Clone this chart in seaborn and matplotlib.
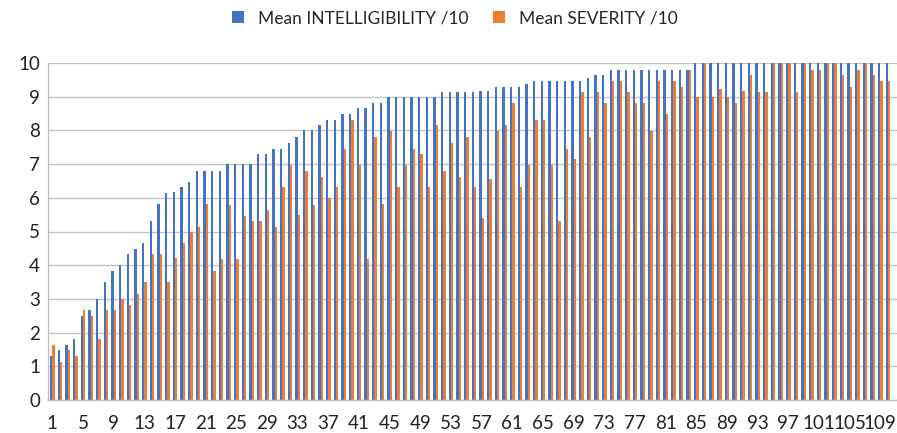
import numpy as np
import pandas as pd
import matplotlib
matplotlib.use("Agg")
import matplotlib.pyplot as plt
import seaborn as sns

# Mean scores per speaker (1..110), sorted by intelligibility
intelligibility = [
    1.30, 1.48, 1.63, 1.80, 2.49, 2.66, 3.00, 3.50, 3.84, 4.00,
    4.33, 4.49, 4.65, 5.31, 5.81, 6.15, 6.18, 6.31, 6.47, 6.80,
    6.80, 6.80, 6.80, 7.00, 7.00, 7.00, 7.00, 7.31, 7.31, 7.46,
    7.46, 7.64, 7.81, 8.00, 8.00, 8.16, 8.32, 8.32, 8.49, 8.49,
    8.66, 8.66, 8.80, 8.81, 9.00, 9.00, 9.00, 9.00, 9.00, 9.00,
    9.00, 9.15, 9.15, 9.15, 9.15, 9.15, 9.18, 9.18, 9.30, 9.30,
    9.30, 9.30, 9.37, 9.47, 9.47, 9.47, 9.47, 9.47, 9.47, 9.47,
    9.55, 9.64, 9.64, 9.80, 9.80, 9.80, 9.80, 9.80, 9.80, 9.80,
    9.80, 9.80, 9.80, 9.80, 10.0, 10.0, 10.0, 10.0, 10.0, 10.0,
    10.0, 10.0, 10.0, 10.0, 10.0, 10.0, 10.0, 10.0, 10.0, 10.0,
    10.0, 10.0, 10.0, 10.0, 10.0, 10.0, 10.0, 10.0, 10.0, 10.0,
]
severity = [
    1.63, 1.14, 1.48, 1.30, 2.66, 2.49, 1.81, 2.66, 2.66, 3.00,
    2.83, 3.16, 3.50, 4.33, 4.33, 3.50, 4.20, 4.65, 4.98, 5.14,
    5.81, 3.84, 4.17, 5.79, 4.17, 5.47, 5.31, 5.31, 5.64, 5.14,
    6.31, 6.98, 5.48, 6.80, 5.79, 6.62, 5.98, 6.31, 7.46, 8.32,
    6.98, 4.17, 7.80, 5.81, 7.99, 6.31, 6.98, 7.46, 7.31, 6.31,
    8.16, 6.80, 7.64, 6.62, 7.81, 6.31, 5.40, 6.57, 7.99, 8.16,
    8.81, 6.31, 6.98, 8.32, 8.32, 6.98, 5.31, 7.46, 7.15, 9.15,
    7.80, 9.15, 8.81, 9.47, 9.47, 9.15, 8.81, 8.81, 7.99, 9.47,
    8.49, 9.47, 9.30, 9.80, 8.98, 10.0, 8.98, 9.24, 8.98, 8.81,
    9.18, 9.64, 9.15, 9.15, 10.0, 10.0, 10.0, 9.15, 10.0, 9.80,
    9.80, 10.0, 10.0, 9.64, 9.30, 9.80, 10.0, 9.64, 9.47, 9.47,
]
speakers = [str(i) for i in range(1, len(intelligibility) + 1)]
series_names = ["Mean INTELLIGIBILITY /10", "Mean SEVERITY /10"]
series_colors = ["#4472C4", "#ED7D31"]
y_ticks = list(range(0, 11))

df = pd.DataFrame({
    "speaker": speakers * 2,
    "score": intelligibility + severity,
    "series": [series_names[0]] * len(speakers) + [series_names[1]] * len(speakers),
})

sns.set_style("white")
plt.rcParams["font.family"] = ["Lato", "DejaVu Sans"]

W, H = 897, 433
fig = plt.figure(figsize=(W / 100, H / 100), dpi=100)
left, right, bottom, top = 48.4, 897, 33, 63
ax = fig.add_axes([left / W, bottom / H, (right - left) / W, (H - top - bottom) / H])

sns.barplot(
    data=df, x="speaker", y="score", hue="series",
    order=speakers, hue_order=series_names, palette=series_colors,
    width=0.62, saturation=1, linewidth=0, errorbar=None, ax=ax,
)

n = len(speakers)
ax.set_xlim(-0.5, n - 0.5 + 5.2 / 7.667)
ax.set_ylim(0, 10)
ax.set_yticks(y_ticks)
ax.set_yticklabels([str(t) for t in y_ticks])
ax.yaxis.grid(True, color="#C4C4C4", linewidth=1.0)
ax.set_axisbelow(True)

major = list(range(0, n, 4))
ax.set_xticks(major)
ax.set_xticklabels([speakers[i] for i in major])
ax.set_xticks([i - 0.5 for i in range(n + 1)], minor=True)
ax.tick_params(axis="x", which="major", length=0, pad=11, labelsize=13.5, colors="#222222")
ax.tick_params(axis="x", which="minor", length=5, width=1, color="#BFBFBF")
ax.tick_params(axis="y", length=0, pad=6, labelsize=13.5, colors="#222222")
ax.set_xlabel("")
ax.set_ylabel("")

for side in ["top", "right"]:
    ax.spines[side].set_visible(False)
for side in ["left", "bottom"]:
    ax.spines[side].set_color("#BFBFBF")
    ax.spines[side].set_linewidth(1.0)

handles, labels = ax.get_legend_handles_labels()
ax.get_legend().remove()
fig.legend(
    handles, labels, loc="center", bbox_to_anchor=(0.507, 1 - 18 / H), ncol=2,
    frameon=False, fontsize=12.5, handlelength=0.7, handleheight=0.7,
    handletextpad=0.8, columnspacing=1.4,
)

fig.savefig("out.png", dpi=100)
